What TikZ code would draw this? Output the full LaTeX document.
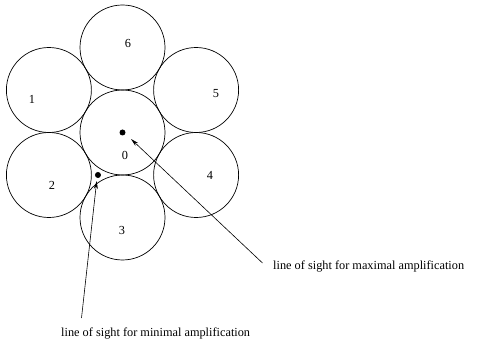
\documentclass[tikz,border=0pt]{standalone}
\usepackage{fontspec}
\setmainfont{Liberation Serif}
\usetikzlibrary{arrows.meta,calc}
\tikzset{
  cell/.style={draw, circle, minimum size=85pt, inner sep=0pt, line width=0.7pt},
  celllab/.style={font=\fontsize{12.3}{14}\selectfont, inner sep=0pt},
  los/.style={-{Stealth[length=8pt, width=4pt]}, line width=0.6pt},
  losdot/.style={circle, fill=black, minimum size=6pt, inner sep=0pt},
  lostxt/.style={font=\fontsize{12.3}{14}\selectfont, anchor=west, inner sep=0pt},
}

\begin{document}
\begin{tikzpicture}[x=1pt, y=-1pt]
    \useasboundingbox[fill=white] (0,0) rectangle (480,339);
    % lens cells: 0 in the middle, 1..6 round it
    \node[cell] (c0) at (122.5,132.5) {};
    \foreach \n/\a in {6/90, 5/30, 4/-30, 3/-90, 2/-150, 1/150}
      \node[cell] (c\n) at ($(c0)+(\a:85pt)$) {};
    \node[celllab] (l0) at (125,155) {0};
    \node[celllab] (l1) at (32,99) {1};
    \node[celllab] (l2) at (52,185) {2};
    \node[celllab] (l3) at (122,230) {3};
    \node[celllab] (l4) at (210,175) {4};
    \node[celllab] (l5) at (216,94) {5};
    \node[celllab] (l6) at (128,43) {6};
    % lines of sight
    \node[losdot] (dmax) at (c0) {};
    \node[losdot] (dmin) at ($1/3*(c0)+1/3*(c2)+1/3*(c3)$) {};
    \node[lostxt] (tmax) at (273,266) {line of sight for maximal amplification};
    \node[lostxt] (tmin) at (61,333) {line of sight for minimal amplification};
    \coordinate (emax) at (262.5,263);
    \coordinate (emin) at (81.5,318);
    \coordinate (hmax) at (131,139);
    \coordinate (hmin) at (96.7,181);
    \draw[los] (emax) -- (hmax);
    \draw[los] (emin) -- (hmin);
\end{tikzpicture}
\end{document}
